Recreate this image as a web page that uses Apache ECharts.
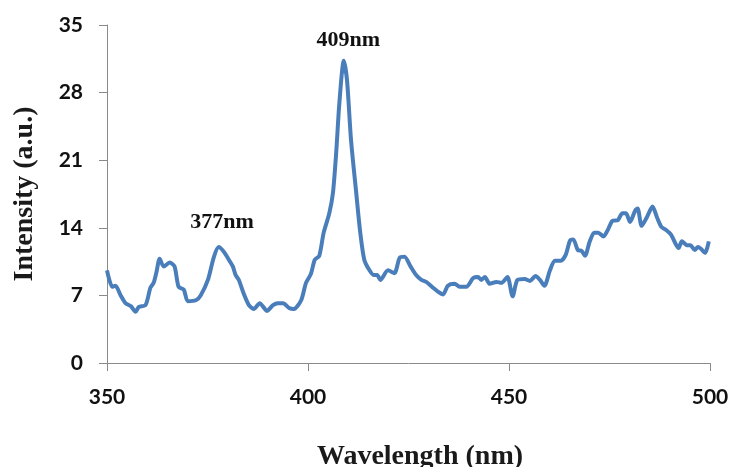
<!DOCTYPE html>
<html>
<head>
<meta charset="utf-8">
<script src="https://cdn.jsdelivr.net/npm/echarts@6/dist/echarts.min.js"></script>
<style>html,body{margin:0;padding:0;background:#fff;}#c{width:729px;height:467px;}</style>
</head>
<body>
<div id="c"></div>
<script>
var wavelength = [350.0,351.3,352.1,353.4,354.6,355.9,357.1,357.9,359.6,360.8,361.6,362.3,363.1,364.1,365.6,366.8,367.8,369.1,370.1,372.1,373.3,375.1,376.6,377.8,379.1,380.3,381.3,382.0,382.8,384.0,385.3,386.5,388.0,389.8,391.3,392.5,393.8,395.3,396.5,398.3,399.5,400.7,401.7,402.8,403.9,405.3,406.2,407.0,407.8,408.9,409.7,410.7,412.0,413.0,414.0,415.3,416.4,417.2,418.0,419.9,421.5,422.8,424.0,425.5,426.9,428.2,429.4,431.1,432.3,433.6,434.8,436.5,437.7,439.4,441.1,442.3,443.1,444.0,445.2,446.9,448.1,449.6,450.9,452.1,453.9,455.2,456.6,457.7,458.8,460.2,461.4,462.9,464.1,465.2,466.0,467.1,468.1,468.9,470.1,471.2,472.2,473.5,474.6,475.7,477.1,478.2,479.1,480.1,481.4,482.0,483.0,484.3,485.7,486.8,487.9,489.0,490.3,491.5,492.2,493.0,494.3,495.1,496.2,497.0,497.8,498.8,499.7];
var intensity = [9.6,7.9,8.0,7.0,6.2,5.9,5.3,5.8,6.0,7.8,8.3,9.4,10.8,10.0,10.4,10.0,7.9,7.6,6.4,6.5,7.0,8.6,11.0,12.0,11.5,10.7,10.0,9.1,8.6,7.2,6.0,5.6,6.2,5.4,6.0,6.2,6.2,5.7,5.6,6.5,8.3,9.2,10.7,11.1,13.5,15.5,17.6,21.7,26.9,31.3,29.3,23.1,17.6,13.5,10.7,9.6,9.1,9.1,8.6,9.6,9.3,10.9,11.0,10.0,9.1,8.6,8.4,7.8,7.4,7.1,8.0,8.2,7.9,7.9,8.8,8.9,8.6,8.9,8.2,8.4,8.3,8.9,6.9,8.6,8.7,8.5,9.0,8.6,8.0,9.6,10.6,10.6,11.2,12.7,12.8,11.7,11.6,11.1,12.6,13.5,13.5,13.1,13.8,14.7,14.8,15.5,15.5,14.6,15.8,16.0,14.2,15.1,16.2,15.1,14.1,13.8,13.3,12.3,11.9,12.6,12.2,12.2,11.7,12.0,11.8,11.4,12.6];
var xTicks = [350, 400, 450, 500];
var yTicks = [0, 7, 14, 21, 28, 35];
var annotationText = ['409nm', '377nm'];
var annotationX = [410.0, 378.6];
var annotationY = [33.4, 14.6];

var points = wavelength.map(function (w, i) { return [w, intensity[i]]; });
var marks = annotationText.map(function (t, i) {
  return { coord: [annotationX[i], annotationY[i]], value: t };
});

var chart = echarts.init(document.getElementById('c'), null, { renderer: 'canvas' });
var axisGrey = '#8a8a8a';
chart.setOption({
  backgroundColor: '#ffffff',
  animation: false,
  grid: { left: 107, right: 19, top: 25, bottom: 104, containLabel: false, outerBoundsMode: 'none' },
  xAxis: {
    type: 'value',
    min: xTicks[0], max: xTicks[xTicks.length - 1], interval: 50,
    name: 'Wavelength (nm)',
    nameLocation: 'middle',
    nameGap: 80,
    nameTextStyle: { fontFamily: 'Liberation Serif', fontWeight: 'bold', fontSize: 28, color: '#1a1a1a', padding: [0, 0, 0, 23] },
    axisLine: { show: true, lineStyle: { color: axisGrey, width: 1 } },
    axisTick: { show: true, length: 8, lineStyle: { color: axisGrey } },
    splitLine: { show: false },
    axisLabel: { margin: 24, fontFamily: 'Lato', fontWeight: 'bold', fontSize: 21, color: '#111' }
  },
  yAxis: {
    type: 'value',
    min: yTicks[0], max: yTicks[yTicks.length - 1], interval: 7,
    name: 'Intensity (a.u.)',
    nameLocation: 'middle',
    nameGap: 68,
    nameRotate: 90,
    nameTextStyle: { fontFamily: 'Liberation Serif', fontWeight: 'bold', fontSize: 28, color: '#1a1a1a' },
    axisLine: { show: true, lineStyle: { color: axisGrey, width: 1 } },
    axisTick: { show: true, length: 8, lineStyle: { color: axisGrey } },
    splitLine: { show: false },
    axisLabel: { margin: 24, fontFamily: 'Lato', fontWeight: 'bold', fontSize: 21, color: '#111' }
  },
  series: [{
    type: 'line',
    data: points,
    smooth: 0.25,
    showSymbol: false,
    symbol: 'none',
    lineStyle: { color: '#4a7ebb', width: 4 },
    markPoint: {
      symbol: 'circle',
      symbolSize: 0,
      label: {
        show: true,
        position: 'inside',
        formatter: function (p) { return p.value; },
        fontFamily: 'Liberation Serif',
        fontWeight: 'bold',
        fontSize: 22,
        color: '#111'
      },
      data: marks
    }
  }]
});
</script>
</body>
</html>
